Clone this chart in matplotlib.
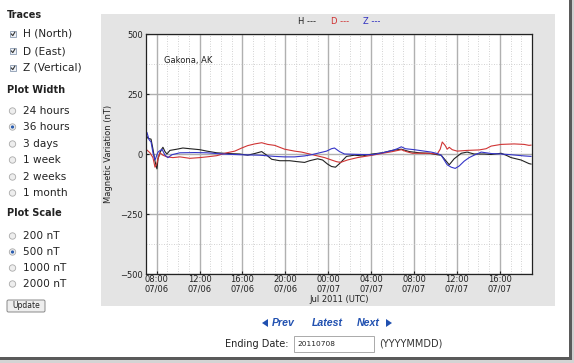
"""Gakona magnetometer page: 36 h of H/D/Z variation, Jul 2011 (UTC)."""
import pandas as pd
import matplotlib
matplotlib.use("Agg")
import matplotlib.pyplot as plt
import matplotlib.dates as mdates
from matplotlib.patches import Rectangle, Circle, Polygon, FancyBboxPatch

# hours after 2011-07-06 07:00 UTC and variation (nT)
h_t = [0.0, 0.19, 0.47, 0.65, 0.84, 1.02, 1.12, 1.30, 1.49, 1.58, 1.77, 1.95, 2.23, 2.88,
       3.44, 4.09, 5.02, 5.67, 6.60, 7.63, 8.74, 9.49, 10.14, 10.79, 11.26, 11.72, 12.47,
       13.40, 14.14, 14.79, 15.26, 16.0, 16.47, 16.93, 17.30, 17.67, 18.05, 18.70, 19.44,
       20.19, 21.12, 22.05, 22.98, 23.81, 24.56, 25.49, 26.42, 27.16, 27.53, 27.91, 28.28,
       28.74, 29.40, 29.95, 30.60, 31.53, 32.19, 33.12, 33.58, 34.05, 34.98, 35.72, 35.91]
h_v = [80, 65, 62, 20, -30, -62, -20, 5, 22, 28, 10, 0, 15, 20,
       25, 22, 18, 12, 5, 2, 0, -5, 2, 10, -5, -22, -28,
       -28, -32, -35, -28, -20, -25, -42, -52, -55, -40, -10, -5,
       -8, 0, 5, 15, 20, 10, 5, 3, -3, -5, -25, -45,
       -20, 3, 8, 0, 0, -2, 3, -5, -15, -25, -40, -42]

d_t = [0.0, 0.37, 0.65, 0.84, 0.98, 1.12, 1.30, 1.58, 1.95, 2.51, 3.16, 4.09, 5.02, 5.67,
       6.60, 7.53, 8.28, 8.93, 9.49, 10.14, 10.79, 11.35, 12.0, 12.93, 13.86, 14.51, 15.72,
       16.65, 17.30, 17.77, 18.14, 18.79, 19.72, 21.12, 22.05, 22.98, 23.81, 24.28, 24.84,
       26.42, 27.16, 27.44, 27.63, 27.91, 28.09, 28.28, 28.56, 29.02, 29.95, 31.07, 31.72,
       32.19, 33.12, 34.33, 35.26, 35.72, 35.91]
d_v = [20, 5, -15, -55, -45, -20, 5, -5, -12, -15, -12, -18, -15, -12,
       -7, 5, 12, 25, 35, 42, 47, 40, 36, 20, 12, 8, -5,
       -15, -25, -32, -35, -25, -15, -5, 3, 10, 18, 10, 3,
       3, 0, 20, 50, 35, 20, 28, 18, 12, 15, 17, 22,
       33, 40, 42, 40, 36, 37]

z_t = [0.0, 0.09, 0.28, 0.47, 0.65, 0.84, 1.12, 1.49, 1.77, 2.05, 2.42, 3.16, 4.56, 5.67,
       7.16, 8.74, 10.60, 12.0, 12.93, 13.86, 14.79, 15.44, 16.19, 16.84, 17.30, 17.58,
       18.05, 18.51, 19.91, 21.12, 22.05, 22.98, 23.44, 23.81, 24.19, 25.02, 25.95, 26.60,
       27.16, 27.53, 27.81, 28.09, 28.47, 28.84, 29.21, 29.67, 30.14, 30.60, 31.26, 32.19,
       33.12, 34.05, 35.26, 35.91]
z_v = [70, 90, 60, 50, 5, -25, 8, 20, -5, -15, -3, 5, 6, 5,
       0, -3, -5, -10, -12, -12, -8, -3, 5, 12, 22, 25,
       10, 0, -2, -3, 5, 15, 22, 30, 22, 18, 12, 8,
       2, -5, -25, -45, -55, -60, -50, -30, -15, -5, 8, 2,
       0, -3, -8, -10]

trace_names = ["H (North)", "D (East)", "Z (Vertical)"]
width_opts = ["24 hours", "36 hours", "3 days", "1 week", "2 weeks", "1 month"]
scale_opts = ["200 nT", "500 nT", "1000 nT", "2000 nT"]
width_sel, scale_sel = "36 hours", "500 nT"

start = pd.Timestamp("2011-07-06 07:00")
end = start + pd.Timedelta(hours=36)


def to_time(hours):
    return start + pd.to_timedelta(hours, unit="h")


W, H = 574, 363
fig = plt.figure(figsize=(W / 100, H / 100), dpi=100)
bg = fig.add_axes([0, 0, 1, 1])
bg.set_xlim(0, W); bg.set_ylim(H, 0); bg.axis("off")

# ---- page furniture ----
bg.add_patch(Rectangle((101, 14), 454, 292, fc="#e4e4e4", ec="none"))
bg.add_patch(Rectangle((569, 0), 3, 360, fc="#5a5a5a", ec="none"))
bg.add_patch(Rectangle((572, 0), 2, 363, fc="#cfcfcf", ec="none"))
bg.add_patch(Rectangle((0, 357), 572, 3, fc="#5a5a5a", ec="none"))
bg.add_patch(Rectangle((0, 360), 574, 3, fc="#d4d4d4", ec="none"))

txt = "#222222"
bg.text(7, 15, "Traces", fontsize=7, weight="bold", color=txt, va="center")
for y, name in zip([34, 51, 68], trace_names):
    bg.add_patch(Rectangle((10, y - 3), 6, 6, fc="#eef2f8", ec="#8a9ab0", lw=0.6))
    bg.plot([11.3, 12.8, 14.8], [y, y + 1.6, y - 1.8], color="#333333", lw=0.8)
    bg.text(23, y, name, fontsize=7.6, color=txt, va="center")

bg.text(7, 90, "Plot Width", fontsize=7, weight="bold", color=txt, va="center")
for y, name in zip([111, 127, 144, 160, 177, 193], width_opts):
    bg.add_patch(Circle((12.5, y), 3.2, fc="#eeeeee", ec="#aaaaaa", lw=0.6))
    if name == width_sel:
        bg.add_patch(Circle((12.5, y), 1.6, fc="#2a5db0", ec="none"))
    bg.text(23, y, name, fontsize=7.6, color=txt, va="center")

bg.text(7, 213, "Plot Scale", fontsize=7, weight="bold", color=txt, va="center")
for y, name in zip([236, 252, 268, 284], scale_opts):
    bg.add_patch(Circle((12.5, y), 3.2, fc="#eeeeee", ec="#aaaaaa", lw=0.6))
    if name == scale_sel:
        bg.add_patch(Circle((12.5, y), 1.6, fc="#2a5db0", ec="none"))
    bg.text(23, y, name, fontsize=7.6, color=txt, va="center")

bg.add_patch(FancyBboxPatch((7, 300), 38, 12, boxstyle="round,pad=0,rounding_size=1.5",
                            fc="#eeeeee", ec="#888888", lw=0.7))
bg.text(26, 306, "Update", fontsize=5.5, color=txt, ha="center", va="center")

nav = "#2050b0"
bg.add_patch(Polygon([[262, 323], [268, 319], [268, 327]], fc=nav, ec="none"))
bg.add_patch(Polygon([[386, 319], [386, 327], [392, 323]], fc=nav, ec="none"))
for x, word in [(272, "Prev"), (312, "Latest"), (357, "Next")]:
    bg.text(x, 323, word, fontsize=7.6, family="Liberation Sans", weight="bold",
            style="italic", color=nav, va="center")

bg.text(225, 344, "Ending Date:", fontsize=7, color=txt, va="center")
bg.add_patch(Rectangle((294, 336), 80, 16, fc="white", ec="#aaaaaa", lw=0.7))
bg.text(297, 344.5, "20110708", fontsize=5.3, color=txt, va="center")
bg.text(379, 344, "(YYYYMMDD)", fontsize=7, color="#333333", va="center")

for x, lab, col in [(298, "H ---", "#222222"), (331, "D ---", "#d03030"), (363, "Z ---", "#3030c0")]:
    bg.text(x, 22, lab, fontsize=6, color=col, va="center")

# ---- magnetometer plot ----
ax = fig.add_axes([146 / W, 1 - 274 / H, 386 / W, 240 / H])
ax.set_zorder(2)
ax.set_facecolor("white")
ax.plot(to_time(h_t), h_v, color="#222222", lw=0.8)
ax.plot(to_time(d_t), d_v, color="#d03535", lw=0.8)
ax.plot(to_time(z_t), z_v, color="#3535c8", lw=0.8)

ax.set_xlim(start, end)
ax.set_ylim(-500, 500)
ax.set_yticks([-500, -250, 0, 250, 500])
ax.set_yticks([-375, -125, 125, 375], minor=True)
ax.xaxis.set_major_locator(mdates.HourLocator(byhour=range(0, 24, 4)))
ax.xaxis.set_minor_locator(mdates.HourLocator())
ax.xaxis.set_major_formatter(mdates.DateFormatter("%H:%M\n%m/%d"))
ax.grid(which="major", color="#b0b0b0", lw=1.0, ls="-")
ax.grid(which="minor", color="#c4c4c4", lw=0.6, ls=(0, (1, 2)))
ax.tick_params(which="both", direction="in", length=2, labelsize=6, pad=2, colors="#222222")
ax.tick_params(axis="x", pad=1)
ax.tick_params(which="minor", length=0)
for t in ax.get_xticklabels():
    t.set_linespacing(0.95)
for s in ax.spines.values():
    s.set_linewidth(0.9)
    s.set_color("#222222")

ax.set_ylabel("Magnetic Variation (nT)", fontsize=6, color="#222222")
ax.yaxis.set_label_coords(-0.085, 0.5)
ax.set_xlabel("Jul 2011 (UTC)", fontsize=6, color="#222222")
ax.xaxis.set_label_coords(0.5, -0.088)
ax.text(0.047, 0.8875, "Gakona, AK", transform=ax.transAxes, fontsize=6,
        color="#222222", va="center")

fig.savefig("out.png", dpi=100)
